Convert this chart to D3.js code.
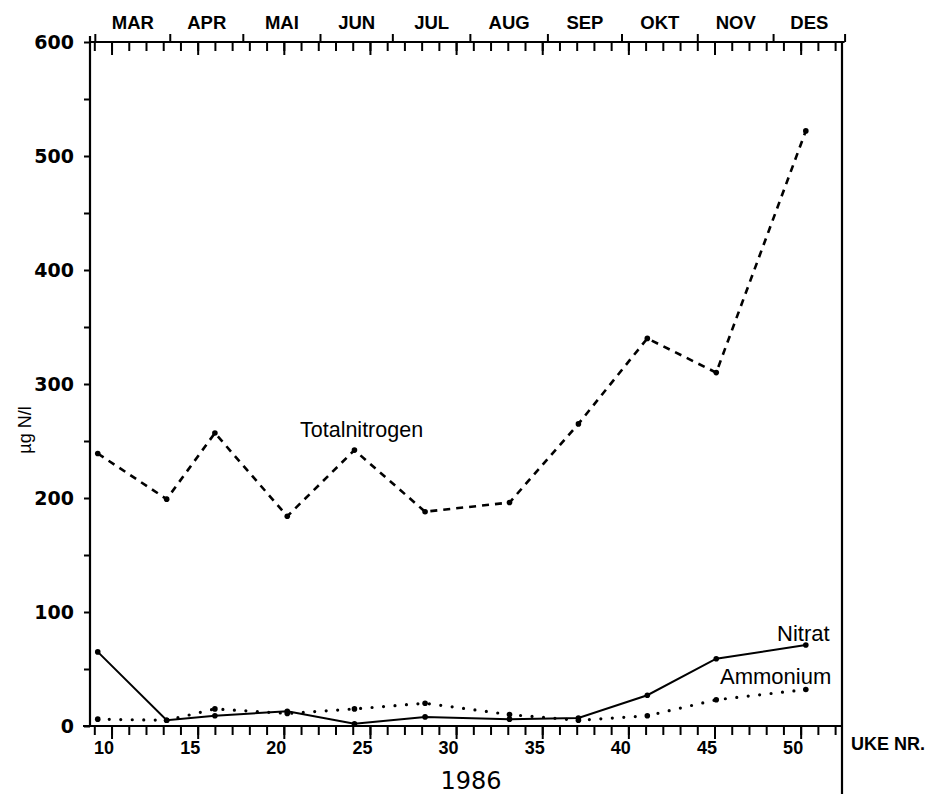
<!DOCTYPE html>
<html><head><meta charset="utf-8">
<script src="https://cdn.jsdelivr.net/npm/d3@7"></script>
<style>body{margin:0;background:#fff}svg{display:block}</style>
</head><body><svg id="c" width="930" height="794"></svg>
<script>
// ---- data ----
const weeks    = [9.2, 13.2, 16.0, 20.2, 24.1, 28.2, 33.1, 37.1, 41.1, 45.1, 50.3];
const totalN   = [239, 199, 257, 184, 242, 188, 196, 265, 340, 310, 522];
const nitrat   = [65, 5, 9, 13, 2, 8, 6, 7, 27, 59, 71];
const ammonium = [6, 5, 15, 11, 15, 20, 10, 5, 9, 23, 32];
const months      = ["MAR","APR","MAI","JUN","JUL","AUG","SEP","OKT","NOV","DES"];
const monthBounds = [9.03, 13.38, 17.62, 22.1, 26.3, 30.8, 35.3, 39.6, 44.0, 48.4, 52.55];
const weekTicks   = d3.range(9, 53);
const weekLabels  = [10, 15, 20, 25, 30, 35, 40, 45, 50];
const yTicks      = d3.range(0, 601, 50);
const yLabels     = [0, 100, 200, 300, 400, 500, 600];

// ---- layout ----
const svg = d3.select("#c");
const x = d3.scaleLinear().domain([8.75, 52.4]).range([90, 842]);
const y = d3.scaleLinear().domain([0, 600]).range([726, 42]);
const X0 = 90, X1 = 842, YB = 726, YT = 42;

function styleAxis(g){
  g.selectAll("path.domain").remove();
  g.selectAll(".tick line").attr("stroke","#000").attr("stroke-width",2);
}

// bottom axis: weekly ticks
svg.append("g").attr("transform",`translate(0,${YB})`)
  .call(d3.axisBottom(x).tickValues(weekTicks).tickSize(9).tickSizeOuter(0).tickFormat(""))
  .call(styleAxis);
// bottom axis: long ticks with labels
const bl = svg.append("g").attr("transform",`translate(0,${YB})`)
  .call(d3.axisBottom(x).tickValues(weekLabels).tickSize(13).tickSizeOuter(0).tickFormat(d3.format("d")))
  .call(styleAxis);
bl.selectAll(".tick text").attr("y",28).attr("dy",0).attr("x",2)
  .attr("text-anchor","end").attr("font-family","Liberation Sans, Arial, sans-serif")
  .attr("font-weight","bold").attr("font-size",18).attr("fill","#000");

// top axis: weekly ticks downward
svg.append("g").attr("transform",`translate(0,${YT})`)
  .call(d3.axisBottom(x).tickValues(weekTicks).tickSize(9).tickSizeOuter(0).tickFormat(""))
  .call(styleAxis);
svg.append("g").attr("transform",`translate(0,${YT})`)
  .call(d3.axisBottom(x).tickValues(weekLabels).tickSize(13).tickSizeOuter(0).tickFormat(""))
  .call(styleAxis);
// top axis: month boundaries upward
svg.append("g").attr("transform",`translate(0,${YT})`)
  .call(d3.axisTop(x).tickValues(monthBounds).tickSize(8).tickSizeOuter(0).tickFormat(""))
  .call(styleAxis);
// month labels
const mids = months.map((m,i)=>(monthBounds[i]+monthBounds[i+1])/2);
const ml = svg.append("g").attr("transform",`translate(0,${YT})`)
  .call(d3.axisTop(x).tickValues(mids).tickSize(0).tickSizeOuter(0)
        .tickFormat((d,i)=>months[i]));
ml.selectAll("path.domain").remove();
ml.selectAll(".tick text").attr("y",-13).attr("dy",0)
  .attr("font-family","Liberation Sans, Arial, sans-serif").attr("font-weight","bold")
  .attr("font-size",18.5).attr("fill","#000");

// left axis
const la = svg.append("g").attr("transform",`translate(${X0},0)`)
  .call(d3.axisLeft(y).tickValues(yTicks).tickSize(6).tickSizeOuter(0)
        .tickFormat(d => yLabels.includes(d) ? d : ""))
  .call(styleAxis);
la.selectAll(".tick text").attr("x",-16).attr("dy","0.36em")
  .attr("font-family","DejaVu Sans, sans-serif").attr("font-weight","bold")
  .attr("font-size",19).attr("fill","#000");

// frame lines
const frame = svg.append("g").attr("stroke","#000").attr("stroke-width",2.2);
frame.append("line").attr("x1",X0).attr("x2",X0).attr("y1",YT-6).attr("y2",YB);
frame.append("line").attr("x1",X0-7).attr("x2",X1).attr("y1",YB).attr("y2",YB);
frame.append("line").attr("x1",X0).attr("x2",x(monthBounds[monthBounds.length-1])).attr("y1",YT).attr("y2",YT);
frame.append("line").attr("x1",X1).attr("x2",X1).attr("y1",YT).attr("y2",794);

// series
const line = d3.line().x(d=>x(d[0])).y(d=>y(d[1]));
function series(vals, attrs){
  const pts = weeks.map((w,i)=>[w, vals[i]]);
  const p = svg.append("path").datum(pts).attr("d", line).attr("fill","none").attr("stroke","#000");
  Object.entries(attrs).forEach(([k,v])=>p.attr(k,v));
  svg.append("g").selectAll("circle").data(pts).join("circle")
    .attr("cx",d=>x(d[0])).attr("cy",d=>y(d[1])).attr("r",2.8).attr("fill","#000");
}
series(totalN,  {"stroke-width":2.6, "stroke-dasharray":"7,6"});
series(nitrat,  {"stroke-width":2});
series(ammonium,{"stroke-width":3.2, "stroke-linecap":"round", "stroke-dasharray":"0,11.5"});

// texts
const sans = "Liberation Sans, Arial, sans-serif";
svg.append("text").attr("x",300).attr("y",437).attr("font-family",sans).attr("font-size",21.5).text("Totalnitrogen");
svg.append("text").attr("x",777).attr("y",641).attr("font-family",sans).attr("font-size",22).text("Nitrat");
svg.append("text").attr("x",720).attr("y",684).attr("font-family",sans).attr("font-size",22).text("Ammonium");
svg.append("text").attr("x",851).attr("y",750).attr("font-family",sans).attr("font-weight","bold").attr("font-size",18).text("UKE NR.");
svg.append("text").attr("x",471).attr("y",789).attr("text-anchor","middle").attr("font-family","DejaVu Sans, sans-serif").attr("font-size",24).text("1986");
svg.append("text").attr("transform","translate(31,430) rotate(-90)").attr("text-anchor","middle")
  .attr("font-family",sans).attr("font-size",18).text("µg N/l");
</script></body></html>
